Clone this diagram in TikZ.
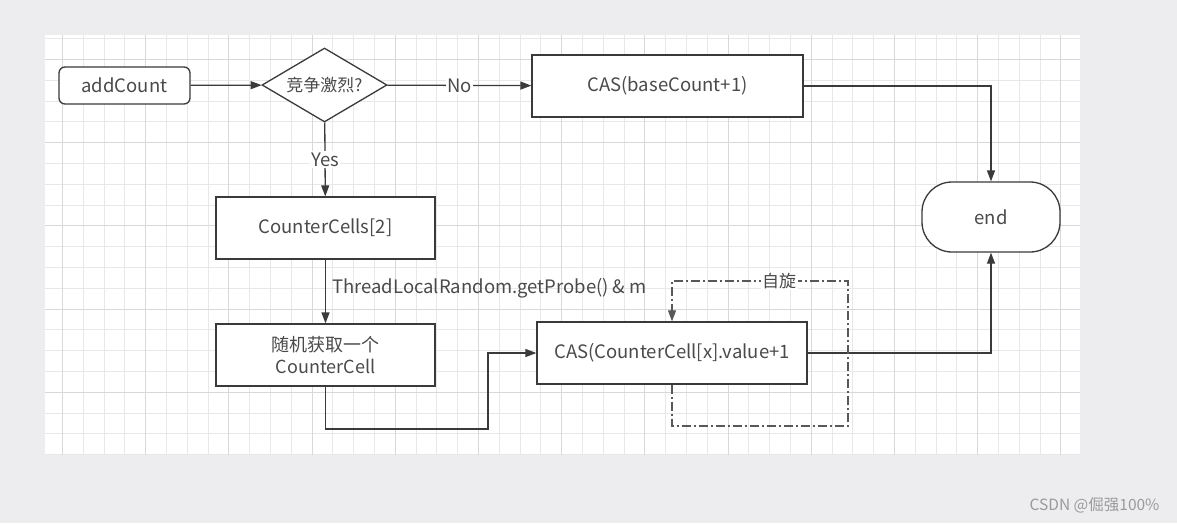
\documentclass[tikz,border=0pt]{standalone}
\usepackage{fontspec}
\setmainfont{Noto Sans CJK SC}
\usetikzlibrary{arrows.meta,shapes.geometric,calc}
\definecolor{bgc}{HTML}{EDEDEF}
\definecolor{gridminor}{HTML}{E8E8E8}
\definecolor{gridmajor}{HTML}{D8D8D8}
\definecolor{linec}{HTML}{3A3A3A}
\definecolor{textc}{HTML}{4A4A4A}
\definecolor{wmc}{HTML}{9A9A9A}
\tikzset{
  base/.style={draw=linec, line width=1.3pt, fill=white, inner sep=0pt, text=textc, font=\fontsize{18.5}{22}\selectfont, align=center},
  boxnode/.style={base, rectangle, minimum width=#1, minimum height=62pt},
  arr/.style={draw=linec, line width=1.3pt, -{Triangle[length=11pt,width=8pt]}},
  lab/.style={fill=white, text=textc, inner sep=1.5pt, font=\fontsize{18.5}{22}\selectfont},
  dd/.style={draw=linec!85, line width=1.2pt, dash pattern=on 9pt off 3pt on 2pt off 3pt}
}
\begin{document}
\begin{tikzpicture}[x=1pt,y=-1pt]
\useasboundingbox (0,0) rectangle (1177,523);
\fill[bgc] (0,0) rectangle (1177,523);
\fill[white] (45,35) rectangle (1080,455);
\begin{scope}
\clip (45,35) rectangle (1080,455);
\foreach \i in {0,...,50} {
  \draw[gridminor, line width=0.8pt] ({41.5+20.8*\i},35) -- ++(0,420);
}
\foreach \i in {0,...,20} {
  \draw[gridminor, line width=0.8pt] (45,{38.5+20.8*\i}) -- ++(1035,0);
}
\foreach \i in {0,...,12} {
  \draw[gridmajor, line width=0.8pt] ({62.3+83.2*\i},35) -- ++(0,420);
}
\foreach \i in {0,...,5} {
  \draw[gridmajor, line width=0.8pt] (45,{59.3+83.2*\i}) -- ++(1035,0);
}
\end{scope}

\node[base, rectangle, rounded corners=6pt, minimum width=131pt, minimum height=37pt] (add) at (124.5,85.5) {addCount};
\node[base, diamond, aspect=1.7, minimum width=125pt, minimum height=74pt, font=\fontsize{17}{20}\selectfont] (dia) at (324.5,85) {竞争激烈?};
\node[boxnode=271pt] (casb) at (667.5,86) {CAS(baseCount+1)};
\node[base, rectangle, rounded corners=30pt, minimum width=138pt, minimum height=70pt] (endn) at (991,217) {end};
\node[boxnode=219pt] (cells) at (325.5,228) {CounterCells[2]};
\node[boxnode=219pt, font=\fontsize{18}{22}\selectfont] (rand) at (325.5,355) {随机获取一个\\CounterCell};
\node[boxnode=270pt] (casc) at (672,353) {CAS(CounterCell[x].value+1};

\coordinate (c1) at (488,429);
\coordinate (l1) at (848,426);
\coordinate (l2) at (848,281);

\draw[arr] (add) -- (dia);
\draw[arr] (dia) -- node[lab]{No} (casb);
\draw[arr] (dia) -- node[lab]{Yes} (cells);
\draw[arr] (cells) -- node[pos=0.45, right=6pt, text=textc, inner sep=0pt, font=\fontsize{18.5}{22}\selectfont]{ThreadLocalRandom.getProbe() \& m} (rand);
\draw[arr] (rand.south) |- (c1) |- (casc.west);
\draw[arr] (casb.east) -| (endn.north);
\draw[arr] (casc.east) -| (endn.south);
\draw[dd, -{Triangle[length=11pt,width=8pt]}] (casc.south) |- (l1) -- (l2) -| (casc.north);
\node[lab, font=\fontsize{17}{20}\selectfont] (spin) at (779,281) {自旋};

\node[text=wmc, font=\fontsize{15.5}{18}\selectfont, anchor=east] (wm) at (1163,505) {CSDN @倔强100\%};
\end{tikzpicture}
\end{document}
